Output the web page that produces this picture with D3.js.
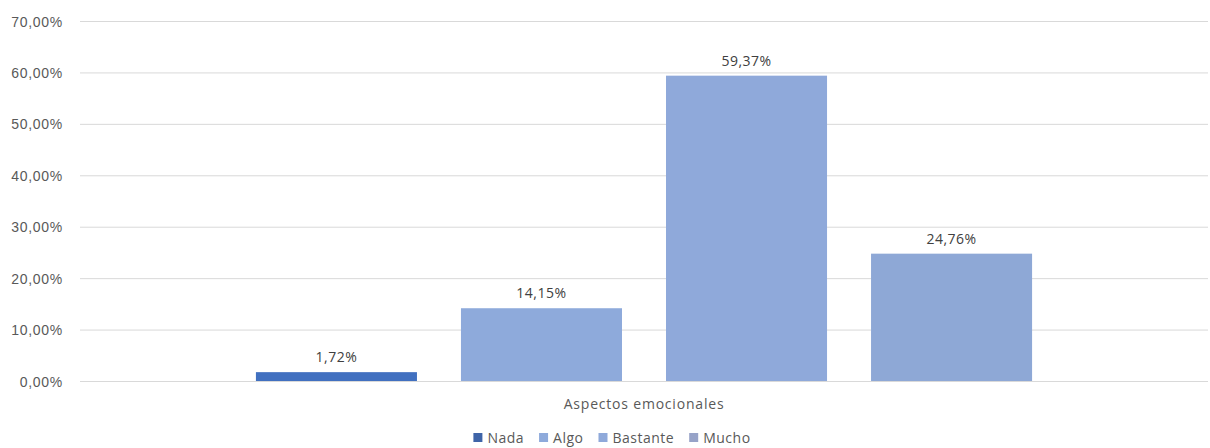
<!DOCTYPE html>
<html>
<head>
<meta charset="utf-8">
<script src="https://cdn.jsdelivr.net/npm/d3@7"></script>
<style>
  html, body { margin: 0; padding: 0; background: #fff; }
  svg { display: block; font-family: "Open Sans", Lato, sans-serif; }
</style>
</head>
<body>
<svg id="chart" width="1210" height="448"></svg>
<script>
// Survey answers for "Aspectos emocionales"
const category = "Aspectos emocionales";
const series = ["Nada", "Algo", "Bastante", "Mucho"];
const values = [1.72, 14.15, 59.37, 24.76];
const colors = ["#4170C0", "#8EAADB", "#8FA9DA", "#8EA8D6"];
const legendColors = ["#3F64A8", "#8EAADB", "#8FA9DA", "#97A3C8"];
const yTicks = [0, 10, 20, 30, 40, 50, 60, 70];

const svg = d3.select("#chart");
const margin = { left: 80, right: 2, top: 21, bottom: 67 };
const W = 1210, H = 448;
const FS = 14;

const fmt = v => v.toFixed(2).replace(".", ",") + "%";

const x = d3.scaleBand()
  .domain(series)
  .range([margin.left, W - margin.right])
  .paddingInner(0.2146)
  .paddingOuter(0.858);

const y = d3.scaleLinear()
  .domain([0, 70])
  .range([H - margin.bottom, margin.top]);

// horizontal gridlines and value labels
const yAxis = d3.axisLeft(y)
  .tickValues(yTicks)
  .tickSize(-(W - margin.left - margin.right))
  .tickPadding(17)
  .tickFormat(fmt);

const gy = svg.append("g")
  .attr("transform", `translate(${margin.left},0)`)
  .call(yAxis);
gy.select(".domain").remove();
gy.selectAll(".tick line").attr("stroke", "#d9d9d9").attr("stroke-width", 1);
gy.selectAll(".tick text")
  .attr("fill", "#595959")
  .attr("font-size", FS)
  .attr("letter-spacing", 0.7)
  .attr("dy", "0.36em");

// bars
svg.append("g").selectAll("rect")
  .data(series)
  .join("rect")
  .attr("x", d => x(d))
  .attr("width", x.bandwidth())
  .attr("y", (d, i) => y(values[i]))
  .attr("height", (d, i) => y(0) - y(values[i]))
  .attr("fill", (d, i) => colors[i]);

// data labels
svg.append("g").selectAll("text")
  .data(series)
  .join("text")
  .attr("x", d => x(d) + x.bandwidth() / 2)
  .attr("y", (d, i) => y(values[i]) - 10)
  .attr("text-anchor", "middle")
  .attr("fill", "#404040")
  .attr("font-size", FS)
  .attr("letter-spacing", 0.5)
  .text((d, i) => fmt(values[i]));

// category label
svg.append("text")
  .attr("x", (margin.left + W - margin.right) / 2)
  .attr("y", 409)
  .attr("text-anchor", "middle")
  .attr("fill", "#595959")
  .attr("font-size", FS)
  .attr("letter-spacing", 0.8)
  .text(category);

// legend
const legend = svg.append("g").attr("transform", "translate(0,443)");
const items = legend.selectAll("g")
  .data(series)
  .join("g");
items.append("rect")
  .attr("width", 9).attr("height", 9).attr("y", -10)
  .attr("fill", (d, i) => legendColors[i]);
items.append("text")
  .attr("x", 14)
  .attr("fill", "#595959")
  .attr("font-size", FS)
  .attr("letter-spacing", 0.5)
  .text(d => d);

const widths = [];
items.each(function () { widths.push(this.getBBox().width); });
const gap = 15;
const total = d3.sum(widths) + gap * (widths.length - 1);
let offset = 612 - total / 2;
items.attr("transform", (d, i) => {
  const t = `translate(${offset},0)`;
  offset += widths[i] + gap;
  return t;
});
</script>
</body>
</html>
